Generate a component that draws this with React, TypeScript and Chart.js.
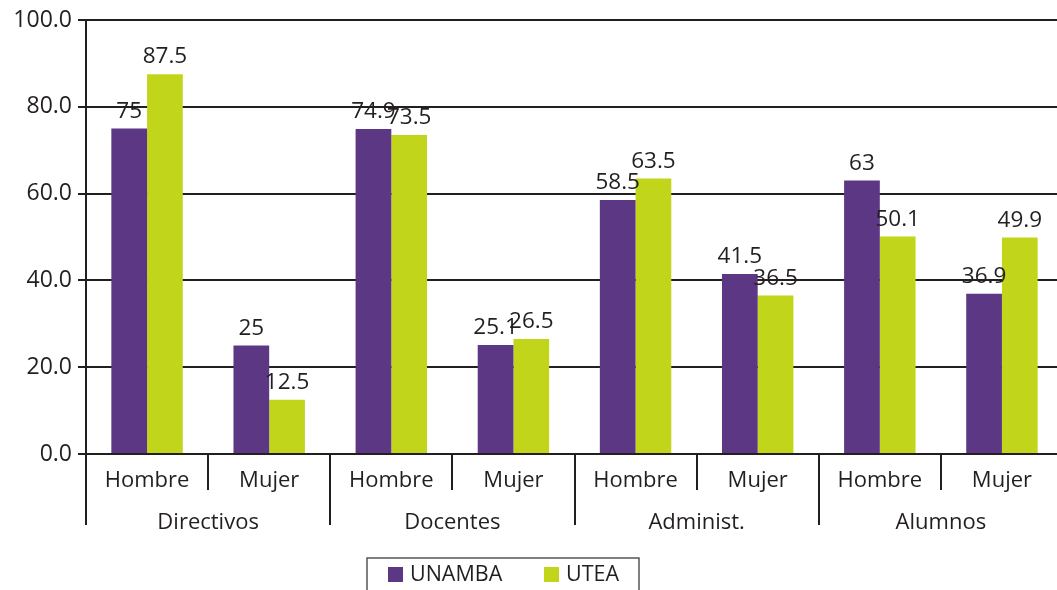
import React, { useEffect, useRef } from "react";
import { Chart, registerables } from "chart.js";

Chart.register(...registerables);

const subLabels = ["Hombre", "Mujer", "Hombre", "Mujer", "Hombre", "Mujer", "Hombre", "Mujer"];
const groupLabels = ["Directivos", "Docentes", "Administ.", "Alumnos"];
const unamba = [75, 25, 74.9, 25.1, 58.5, 41.5, 63, 36.9];
const utea = [87.5, 12.5, 73.5, 26.5, 63.5, 36.5, 50.1, 49.9];
const seriesNames = ["UNAMBA", "UTEA"];
const yTicks = [0, 20, 40, 60, 80, 100];

const PURPLE = "#5c3783";
const GREEN = "#c1d51b";
const INK = "#231f20";
const FONT = "'Open Sans', sans-serif";
const CW = 1063;

export default function App() {
  const ref = useRef<HTMLCanvasElement>(null);
  useEffect(() => {
    document.body.style.margin = "0";
    const extras = {
      id: "extras",
      afterDatasetsDraw(chart: any) {
        const ctx = chart.ctx;
        ctx.save();
        ctx.fillStyle = INK;
        ctx.font = `22.5px ${FONT}`;
        ctx.textAlign = "center";
        ctx.textBaseline = "bottom";
        chart.data.datasets.forEach((ds: any, di: number) => {
          const meta = chart.getDatasetMeta(di);
          meta.data.forEach((el: any, i: number) => {
            ctx.fillText(String(ds.data[i]), el.x, el.y - 6);
          });
        });
        ctx.restore();
      },
      afterDraw(chart: any) {
        const ctx = chart.ctx;
        const xs = chart.scales.x;
        const area = chart.chartArea;
        const bottom = area.bottom;
        const step = xs.getPixelForValue(1) - xs.getPixelForValue(0);
        ctx.save();
        ctx.strokeStyle = INK;
        ctx.lineWidth = 2;
        const n = subLabels.length;
        for (let i = 0; i < n; i++) {
          const left = xs.getPixelForValue(i) - step / 2;
          const long = i % 2 === 0;
          ctx.beginPath();
          ctx.moveTo(Math.round(left), bottom);
          ctx.lineTo(Math.round(left), bottom + (long ? 71 : 36));
          ctx.stroke();
        }
        ctx.fillStyle = INK;
        ctx.font = `22px ${FONT}`;
        ctx.textAlign = "center";
        ctx.textBaseline = "middle";
        groupLabels.forEach((g, gi) => {
          const x = (xs.getPixelForValue(gi * 2) + xs.getPixelForValue(gi * 2 + 1)) / 2;
          ctx.fillText(g, x, bottom + 69);
        });
        // legend
        const lx = 367, ly = 558, lw = 272;
        ctx.strokeStyle = "#555";
        ctx.lineWidth = 1.5;
        ctx.beginPath();
        ctx.moveTo(lx, chart.height + 2);
        ctx.lineTo(lx, ly);
        ctx.lineTo(lx + lw, ly);
        ctx.lineTo(lx + lw, chart.height + 2);
        ctx.stroke();
        const items = [
          { name: seriesNames[0], color: PURPLE, sx: 388, tx: 410 },
          { name: seriesNames[1], color: GREEN, sx: 544, tx: 566 },
        ];
        ctx.font = `21.5px ${FONT}`;
        ctx.textAlign = "left";
        ctx.textBaseline = "middle";
        items.forEach((it) => {
          ctx.fillStyle = it.color;
          ctx.fillRect(it.sx, 567, 15, 15);
          ctx.fillStyle = INK;
          ctx.fillText(it.name, it.tx, 575);
        });
        ctx.restore();
      },
    };
    const chart = new Chart(ref.current!, {
      type: "bar",
      data: {
        labels: subLabels,
        datasets: [
          { label: seriesNames[0], data: unamba, backgroundColor: PURPLE, categoryPercentage: 0.585, barPercentage: 1 },
          { label: seriesNames[1], data: utea, backgroundColor: GREEN, categoryPercentage: 0.585, barPercentage: 1 },
        ],
      },
      options: {
        animation: false,
        responsive: false,
        maintainAspectRatio: false,
        layout: { padding: { top: 20, right: 0, left: 0, bottom: 0 } },
        plugins: { legend: { display: false }, tooltip: { enabled: false } },
        scales: {
          x: {
            grid: { display: false, drawTicks: false },
            border: { display: false },
            ticks: { color: INK, font: { family: FONT, size: 22 }, padding: 14, maxRotation: 0, autoSkip: false },
            afterFit(scale: any) { scale.height = 136; },
          },
          y: {
            min: 0,
            max: 100,
            afterBuildTicks(scale: any) { scale.ticks = yTicks.map((v) => ({ value: v })); },
            ticks: {
              color: INK,
              font: { family: FONT, size: 23 },
              padding: 6,
              callback: (v: any) => Number(v).toFixed(1),
            },
            grid: { color: INK, lineWidth: 2, tickLength: 8, drawTicks: true },
            border: { display: true, color: INK, width: 2 },
            afterFit(scale: any) { scale.width = 86; },
          },
        },
      },
      plugins: [extras],
    });
    return () => chart.destroy();
  }, []);
  return (
    <div style={{ position: "fixed", left: 0, top: 0, width: 1057, height: 590, overflow: "hidden", background: "#fff" }}>
      <canvas ref={ref} width={CW} height={590} style={{ width: CW, height: 590, display: "block" }} />
    </div>
  );
}
